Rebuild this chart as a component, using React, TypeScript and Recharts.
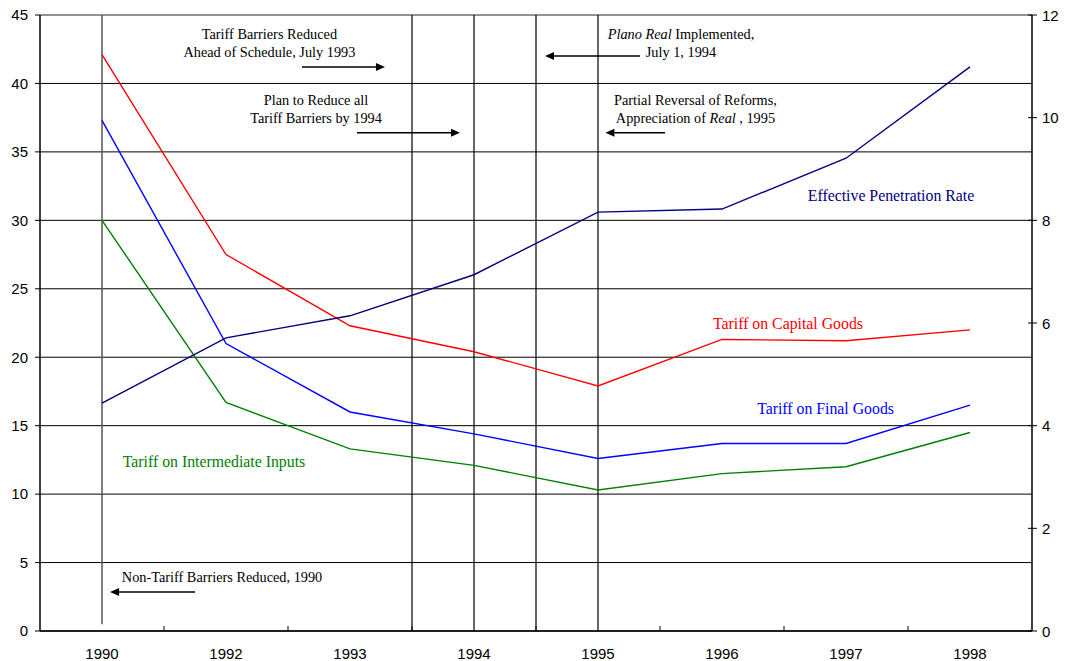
import {
  CartesianGrid,
  ComposedChart,
  Line,
  ReferenceDot,
  ReferenceLine,
  XAxis,
  YAxis,
} from "recharts";

const years = ["1990", "1992", "1993", "1994", "1995", "1996", "1997", "1998"];
const capitalGoods = [42.1, 27.5, 22.3, 20.4, 17.9, 21.3, 21.2, 22.0];
const finalGoods = [37.3, 21.0, 16.0, 14.4, 12.6, 13.7, 13.7, 16.5];
const intermediateInputs = [30.0, 16.7, 13.3, 12.1, 10.3, 11.5, 12.0, 14.5];
const penetrationRate = [4.44, 5.71, 6.14, 6.94, 8.16, 8.22, 9.21, 10.99];

const leftTicks = [0, 5, 10, 15, 20, 25, 30, 35, 40, 45];
const rightTicks = [0, 2, 4, 6, 8, 10, 12];

// event markers, in year-index units (1993.5 = between 1993 and 1994)
const eventLines = [2.5, 3, 3.5, 4];

const SANS = "'Liberation Sans', Arial, sans-serif";
const SERIF = "'Liberation Serif', 'Times New Roman', serif";

const data = years.map((year, i) => ({
  idx: i,
  year,
  capital: capitalGoods[i],
  final: finalGoods[i],
  intermediate: intermediateInputs[i],
  penetration: penetrationRate[i],
}));

// labels at each year, small tick marks between years
const xTicks = years.flatMap((_, i) => (i < years.length - 1 ? [i, i + 0.5] : [i]));

type Seg = { t: string; italic?: boolean };

const seriesLabels = [
  { x: 6.363, y: 31.85, color: "#000080", lines: [[{ t: "Effective Penetration Rate" }]] },
  { x: 5.532, y: 22.5, color: "#ff0000", lines: [[{ t: "Tariff on Capital Goods" }]] },
  { x: 5.835, y: 16.29, color: "#0000ff", lines: [[{ t: "Tariff on Final Goods" }]] },
  { x: 0.903, y: 12.42, color: "#008000", lines: [[{ t: "Tariff on Intermediate Inputs" }]] },
];

const notes: { x: number; y: number; lines: Seg[][] }[] = [
  {
    x: 1.35,
    y: 42.95,
    lines: [[{ t: "Tariff Barriers Reduced" }], [{ t: "Ahead of Schedule, July 1993" }]],
  },
  {
    x: 1.726,
    y: 38.13,
    lines: [[{ t: "Plan to Reduce all" }], [{ t: "Tariff Barriers by 1994" }]],
  },
  {
    x: 4.669,
    y: 42.95,
    lines: [
      [{ t: "Plano Real", italic: true }, { t: " Implemented," }],
      [{ t: "July 1, 1994" }],
    ],
  },
  {
    x: 4.786,
    y: 38.13,
    lines: [
      [{ t: "Partial Reversal of Reforms," }],
      [{ t: "Appreciation of " }, { t: "Real", italic: true }, { t: " , 1995" }],
    ],
  },
  { x: 0.968, y: 3.94, lines: [[{ t: "Non-Tariff Barriers Reduced, 1990" }]] },
];

const arrows = [
  { from: { x: 1.613, y: 41.2 }, to: { x: 2.282, y: 41.2 } },
  { from: { x: 2.056, y: 36.4 }, to: { x: 2.887, y: 36.4 } },
  { from: { x: 4.339, y: 42.0 }, to: { x: 3.573, y: 42.0 } },
  { from: { x: 4.54, y: 36.4 }, to: { x: 4.06, y: 36.4 } },
  { from: { x: 0.75, y: 2.85 }, to: { x: 0.065, y: 2.85 } },
];

const textShape =
  (lines: Seg[][], color: string, size: number, lineHeight: number) =>
  (props: { cx?: number; cy?: number }) => {
    const cx = props.cx ?? 0;
    const cy = props.cy ?? 0;
    return (
      <text
        x={cx}
        y={cy}
        fill={color}
        fontSize={size}
        fontFamily={SERIF}
        textAnchor="middle"
        dominantBaseline="central"
      >
        {lines.map((line, i) => (
          <tspan
            key={i}
            x={cx}
            dy={i === 0 ? -((lines.length - 1) / 2) * lineHeight : lineHeight}
          >
            {line.map((s, j) => (
              <tspan key={j} fontStyle={s.italic ? "italic" : "normal"}>
                {s.t}
              </tspan>
            ))}
          </tspan>
        ))}
      </text>
    );
  };

const ArrowShape = (props: { x1?: number; y1?: number; x2?: number; y2?: number }) => {
  const { x1 = 0, y1 = 0, x2 = 0, y2 = 0 } = props;
  const dir = x2 > x1 ? 1 : -1;
  const len = 9;
  const half = 4;
  return (
    <g>
      <line x1={x1} y1={y1} x2={x2 - dir * len} y2={y2} stroke="#000" strokeWidth={1.5} />
      <polygon
        points={`${x2},${y2} ${x2 - dir * len},${y2 - half} ${x2 - dir * len},${y2 + half}`}
        fill="#000"
      />
    </g>
  );
};

const XTick = (props: { x?: number; y?: number; payload?: { value: number } }) => {
  const { x = 0, y = 0, payload } = props;
  const v = payload?.value ?? 0;
  if (Number.isInteger(v)) {
    return (
      <text
        x={x}
        y={y + 22}
        textAnchor="middle"
        dominantBaseline="central"
        fontSize={15}
        fontFamily={SANS}
        fill="#000"
      >
        {years[v]}
      </text>
    );
  }
  return <line x1={x} x2={x} y1={y} y2={y - 5} stroke="#000" />;
};

const RightTick = (props: { x?: number; y?: number; payload?: { value: number } }) => {
  const { x = 0, y = 0, payload } = props;
  return (
    <g>
      <line x1={x - 4} x2={x + 5} y1={y} y2={y} stroke="#000" />
      <text
        x={x + 10}
        y={y}
        dominantBaseline="central"
        fontSize={15}
        fontFamily={SANS}
        fill="#000"
      >
        {payload?.value}
      </text>
    </g>
  );
};

export default function App() {
  return (
    <div style={{ position: "absolute", left: 0, top: 0, background: "#fff" }}>
      <ComposedChart
        width={1066}
        height={661}
        data={data}
        margin={{ top: 15, right: 0, bottom: 0, left: 0 }}
      >
        <CartesianGrid yAxisId="left" vertical={false} stroke="#000" />
        <XAxis
          dataKey="idx"
          type="number"
          domain={[-0.5, 7.5]}
          ticks={xTicks}
          interval={0}
          tickLine={false}
          tickSize={0}
          tickMargin={0}
          tick={XTick}
          height={30}
          axisLine={{ stroke: "#000", strokeWidth: 1.5 }}
        />
        <YAxis
          yAxisId="left"
          domain={[0, 45]}
          ticks={leftTicks}
          width={40}
          tickSize={5}
          tickMargin={7}
          tickLine={{ stroke: "#000" }}
          axisLine={{ stroke: "#000", strokeWidth: 1.5 }}
          tick={{ fill: "#000", fontSize: 15, fontFamily: SANS }}
        />
        <YAxis
          yAxisId="right"
          orientation="right"
          domain={[0, 12]}
          ticks={rightTicks}
          width={34}
          tickSize={0}
          tickMargin={0}
          tickLine={false}
          tick={RightTick}
          axisLine={{ stroke: "#000", strokeWidth: 1.5 }}
        />

        <ReferenceLine yAxisId="left" y={45} stroke="#999" strokeWidth={1.5} />
        <ReferenceLine
          yAxisId="left"
          segment={[
            { x: 0, y: 0.5 },
            { x: 0, y: 45 },
          ]}
          stroke="#555"
          strokeWidth={1.5}
        />
        {eventLines.map((v) => (
          <ReferenceLine key={v} yAxisId="left" x={v} stroke="#000" strokeWidth={1.2} />
        ))}

        <Line
          yAxisId="left"
          dataKey="capital"
          stroke="#ff0000"
          strokeWidth={1.4}
          dot={false}
          isAnimationActive={false}
        />
        <Line
          yAxisId="left"
          dataKey="final"
          stroke="#0000ff"
          strokeWidth={1.4}
          dot={false}
          isAnimationActive={false}
        />
        <Line
          yAxisId="left"
          dataKey="intermediate"
          stroke="#008000"
          strokeWidth={1.4}
          dot={false}
          isAnimationActive={false}
        />
        <Line
          yAxisId="right"
          dataKey="penetration"
          stroke="#000080"
          strokeWidth={1.4}
          dot={false}
          isAnimationActive={false}
        />

        {arrows.map((a, i) => (
          <ReferenceLine
            key={`arrow-${i}`}
            yAxisId="left"
            segment={[a.from, a.to]}
            shape={ArrowShape}
          />
        ))}
        {notes.map((n, i) => (
          <ReferenceDot
            key={`note-${i}`}
            yAxisId="left"
            x={n.x}
            y={n.y}
            r={0}
            shape={textShape(n.lines, "#000", 14.3, 18)}
          />
        ))}
        {seriesLabels.map((s, i) => (
          <ReferenceDot
            key={`label-${i}`}
            yAxisId="left"
            x={s.x}
            y={s.y}
            r={0}
            shape={textShape(s.lines, s.color, 15.8, 18)}
          />
        ))}
      </ComposedChart>
    </div>
  );
}
